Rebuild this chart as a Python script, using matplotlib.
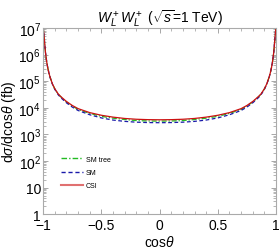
import numpy as np
import matplotlib
matplotlib.use('Agg')
import matplotlib.pyplot as plt
from matplotlib.ticker import FixedLocator, LogLocator, NullFormatter

plt.rcParams['font.family'] = ['Liberation Sans', 'DejaVu Sans']
plt.rcParams['mathtext.fontset'] = 'custom'
plt.rcParams['mathtext.rm'] = 'Liberation Sans'
plt.rcParams['mathtext.it'] = 'Liberation Sans:italic'

# cos(theta) half grid (mirrored below), log10 of dsigma/dcos
c_half = [-1.0, -0.995, -0.99, -0.98, -0.97, -0.96, -0.95, -0.94, -0.92, -0.9,
          -0.87, -0.85, -0.8, -0.75, -0.7, -0.6, -0.5, -0.4, -0.3, -0.2, -0.1, 0.0]
csi_half = [7.05, 6.85, 6.6, 6.09, 5.75, 5.5, 5.31, 5.15, 4.9, 4.72,
            4.52, 4.43, 4.24, 4.09, 3.97, 3.82, 3.72, 3.65, 3.6, 3.57, 3.555, 3.55]
smtree_half = [7.05, 6.85, 6.6, 6.09, 5.75, 5.5, 5.31, 5.15, 4.9, 4.71,
               4.51, 4.42, 4.22, 4.07, 3.94, 3.79, 3.68, 3.61, 3.56, 3.52, 3.505, 3.5]
sm_half = [7.05, 6.85, 6.6, 6.09, 5.75, 5.5, 5.31, 5.14, 4.89, 4.7,
           4.49, 4.39, 4.19, 4.03, 3.9, 3.74, 3.62, 3.54, 3.49, 3.46, 3.445, 3.44]

cos = np.array(c_half + [-v for v in c_half[-2::-1]])
def full(h):
    return 10 ** np.array(h + h[-2::-1])

fig = plt.figure(figsize=(2.8, 2.51), dpi=100)
ax = fig.add_axes([0.154, 0.143, 0.832, 0.741])

ax.plot(cos, full(smtree_half), color='#22bb22', ls=(0, (4, 1.5, 1, 1.5)), lw=0.9, label='SM tree')
ax.plot(cos, full(sm_half), color='#1a1aaa', ls=(0, (3, 2)), lw=0.9, label='SM')
ax.plot(cos, full(csi_half), color='#cc1111', lw=0.9, label='CSI')

ax.set_yscale('log')
ax.set_xlim(-1, 1)
ax.set_ylim(1, 1e7)
ax.set_xticks([-1, -0.5, 0, 0.5, 1])
ax.set_xticklabels(['\u22121', '\u22120.5', '0', '0.5', '1'])
ax.xaxis.set_minor_locator(FixedLocator(np.arange(-1, 1.01, 0.1)))
ax.set_yticks([10.0 ** k for k in range(8)])
ax.set_yticklabels(['1', '10'] + ['$10^{%d}$' % k for k in range(2, 8)])
ax.yaxis.set_minor_locator(LogLocator(base=10, subs=np.arange(2, 10), numticks=20))
ax.yaxis.set_minor_formatter(NullFormatter())
ax.tick_params(which='both', direction='in', top=True, right=True, color='#999999',
               labelsize=10)
ax.tick_params(axis='x', pad=3)
ax.tick_params(axis='y', pad=1.5)
ax.tick_params(which='major', length=3.5, width=0.6)
ax.tick_params(which='minor', length=2, width=0.5)
for s in ax.spines.values():
    s.set_color('#aaaaaa')
    s.set_linewidth(0.8)

ax.set_xlabel('cos$\\theta$', fontsize=10, labelpad=1)
ax.set_ylabel('d$\\sigma$/dcos$\\theta$ (fb)', fontsize=10, labelpad=0)
ax.set_title('$W_L^+W_L^+$ ($\\sqrt{s}$=1 TeV)', fontsize=10, pad=4)

leg = ax.legend(loc='lower left', bbox_to_anchor=(0.05, 0.1), frameon=False, fontsize=5,
                handlelength=3.2, handletextpad=0.4, labelspacing=0.9)
for h in leg.legend_handles:
    h.set_linewidth(1.0)
leg.legend_handles[2].set_color('#e07070')
leg.legend_handles[2].set_linewidth(1.5)

plt.savefig('out.png', dpi=100)
